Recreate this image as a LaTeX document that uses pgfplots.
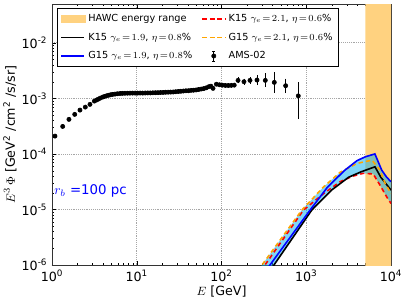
\documentclass[border=0pt]{standalone}
\usepackage{fontspec}
\setmainfont{DejaVu Sans}
\usepackage{pgfplots}
\pgfplotsset{compat=1.18}
\usepackage{pgfplotstable}
\definecolor{mplorange}{RGB}{255,165,0}
\definecolor{hawc}{RGB}{255,210,128}
\definecolor{mplblue}{RGB}{0,0,255}
\definecolor{mplred}{RGB}{255,0,0}

\pgfplotstableread{
E F ep em
1.084 2.094e-4 0 0
1.337 3.126e-4 0 0
1.585 4.188e-4 0 0
1.854 5.152e-4 0 0
2.138 6.152e-4 0 0
2.472 6.966e-4 0 0
2.805 7.798e-4 0 0
3.162 8.933e-4 0 0
3.350 9.333e-4 0 0
3.524 9.705e-4 0 0
3.715 1.012e-3 0 0
3.963 1.054e-3 0 0
4.169 1.084e-3 0 0
4.416 1.114e-3 0 0
4.677 1.140e-3 0 0
4.920 1.161e-3 0 0
5.188 1.180e-3 0 0
5.534 1.194e-3 0 0
5.888 1.211e-3 0 0
6.339 1.225e-3 0 0
6.761 1.230e-3 0 0
7.244 1.236e-3 0 0
7.762 1.239e-3 0 0
8.318 1.242e-3 0 0
8.913 1.245e-3 0 0
9.550 1.245e-3 0 0
10.23 1.245e-3 0 0
10.96 1.247e-3 0 0
11.75 1.245e-3 0 0
12.59 1.250e-3 0 0
13.49 1.253e-3 0 0
14.45 1.253e-3 0 0
15.49 1.259e-3 0 0
16.60 1.265e-3 0 0
17.78 1.268e-3 0 0
19.05 1.274e-3 0 0
20.42 1.279e-3 0 0
21.88 1.288e-3 0 0
23.44 1.294e-3 0 0
25.12 1.297e-3 0 0
26.92 1.303e-3 0 0
28.84 1.318e-3 0 0
30.90 1.330e-3 0 0
33.11 1.343e-3 0 0
35.48 1.355e-3 0 0
38.02 1.368e-3 0 0
40.74 1.374e-3 0 0
43.65 1.393e-3 0 0
46.77 1.403e-3 0 0
50.12 1.419e-3 0 0
53.70 1.445e-3 0 0
57.54 1.472e-3 0 0
61.66 1.500e-3 0 0
66.07 1.549e-3 0 0
70.79 1.622e-3 0 0
74.99 1.660e-3 0 0
79.43 1.514e-3 0 0
87.10 1.799e-3 0 0
94.41 1.758e-3 0 0
102.3 1.730e-3 0 0
110.9 1.710e-3 0 0
120.2 1.706e-3 0 0
130.3 1.714e-3 0 0
141.3 1.730e-3 0 0
156.7 2.109e-3 0.08e-3 0.08e-3
184.1 1.995e-3 0.10e-3 0.10e-3
216.8 2.109e-3 0.13e-3 0.13e-3
262.4 2.138e-3 0.25e-3 0.25e-3
328.9 2.109e-3 0.52e-3 0.37e-3
419.8 1.941e-3 0.76e-3 0.57e-3
571.5 1.690e-3 0.40e-3 0.34e-3
805.4 1.109e-3 0.68e-3 0.65e-3
}\ams

\begin{document}
\begin{tikzpicture}
\begin{axis}[
  name=ax,
  scale only axis, width=254.25pt, height=195.75pt,
  xmode=log, ymode=log,
  xmin=1, xmax=1e4, ymin=1e-6, ymax=5e-2,
  xtick={1,10,100,1000,10000},
  xticklabels={10\textsuperscript{0},10\textsuperscript{1},10\textsuperscript{2},10\textsuperscript{3},10\textsuperscript{4}},
  ytick={1e-6,1e-5,1e-4,1e-3,1e-2},
  yticklabels={10\textsuperscript{-6},10\textsuperscript{-5},10\textsuperscript{-4},10\textsuperscript{-3},10\textsuperscript{-2}},
  grid=major,
  grid style={densely dotted, gray!70, line width=0.5pt},
  tick label style={font=\fontsize{9.5}{11}\selectfont},
  label style={font=\fontsize{9.5}{11}\selectfont},
  major tick length=3pt, minor tick length=1.5pt,
  tick style={black},
  axis line style={black!80},
  xlabel={$E$ [GeV]},
  ylabel={$E^3\,\Phi$ [GeV\textsuperscript{2} /cm\textsuperscript{2} /s/sr]},
  xlabel style={at={(axis description cs:0.5,-0.102)}, anchor=center},
  ylabel style={at={(axis description cs:-0.124,0.5)}, anchor=center},
  legend columns=2,
  legend cell align=left,
  legend style={at={(0,1)}, anchor=north west, xshift=3.5pt, yshift=-3pt,
    font=\fontsize{7.3}{8.8}\selectfont, draw=black, fill=white, inner sep=2.5pt,
    /tikz/every even column/.append style={column sep=5pt}, row sep=3pt},
]
% HAWC range
\addplot[fill=hawc, draw=none,
  legend image code/.code={\fill[hawc] (0cm,-0.11cm) rectangle (0.65cm,0.11cm);}]
  coordinates {(5000,1e-7) (20000,1e-7) (20000,1) (5000,1) (5000,1e-7)};
\addlegendentry{HAWC energy range}

% model band
\addplot[forget plot, fill=cyan, fill opacity=0.5, draw=none] coordinates {
 (269.2,7.943e-7) (300.6,1e-6) (885.1,9.705e-6) (1585,2.512e-5) (2512,4.677e-5)
 (2818,5.129e-5) (3981,7.586e-5) (5012,8.913e-5) (6457,1e-4) (7762,5.129e-5)
 (8892,3.802e-5) (10000,3.162e-5)
 (10000,1.282e-5) (8892,1.687e-5) (7413,2.742e-5) (6166,4.365e-5) (4677,4.467e-5)
 (3548,3.981e-5) (3162,3.802e-5) (1995,2.239e-5) (1159,9.705e-6) (415.9,1e-6)
 (372.4,7.943e-7) (269.2,7.943e-7)};

% red K15 2.1
\addplot[mplred, line width=1.2pt, dash pattern=on 3.2pt off 2.4pt] coordinates {
 (291.7,7.943e-7) (325.8,1e-6) (924.7,9.705e-6) (1585,1.905e-5) (2512,3.162e-5)
 (3548,3.981e-5) (4677,4.467e-5) (6166,4.365e-5) (7413,2.742e-5) (8892,1.687e-5) (10000,1.282e-5)};
\addlegendentry{K15 $\gamma_e\!=\!2.1$, $\eta\!=\!0.6\%$}
% black K15 1.9
\addplot[black, line width=1.2pt] coordinates {
 (372.4,7.943e-7) (415.9,1e-6) (1159,9.705e-6) (1995,2.239e-5) (3162,3.802e-5)
 (4467,4.786e-5) (6471,5.861e-5) (7586,3.802e-5) (10000,2.228e-5)};
\addlegendentry{K15 $\gamma_e\!=\!1.9$, $\eta\!=\!0.8\%$}
% orange G15 2.1
\addplot[mplorange, line width=1.2pt, dash pattern=on 3.2pt off 2.4pt] coordinates {
 (269.2,7.943e-7) (300.6,1e-6) (885.1,9.705e-6) (1585,2.512e-5) (2512,4.677e-5)
 (3981,6.761e-5) (5970,7.727e-5) (7413,5.129e-5) (8511,2.951e-5) (10000,1.950e-5)};
\addlegendentry{G15 $\gamma_e\!=\!2.1$, $\eta\!=\!0.6\%$}
% blue G15 1.9
\addplot[mplblue, line width=1.2pt] coordinates {
 (334.2,7.943e-7) (373.3,1e-6) (1107,9.705e-6) (1778,2.512e-5) (2818,5.012e-5)
 (3981,7.586e-5) (5012,8.913e-5) (6457,1e-4) (7762,5.129e-5) (8892,3.802e-5) (10000,3.162e-5)};
\addlegendentry{G15 $\gamma_e\!=\!1.9$, $\eta\!=\!0.8\%$}

% AMS-02
\addplot[only marks, mark=*, black, mark size=1.6pt,
  legend image code/.code={
    \draw[black, line width=0.6pt] (0.3cm,-0.13cm)--(0.3cm,0.13cm);
    \draw[black, line width=0.6pt] (0.26cm,0.13cm)--(0.34cm,0.13cm);
    \draw[black, line width=0.6pt] (0.26cm,-0.13cm)--(0.34cm,-0.13cm);
    \fill[black] (0.3cm,0cm) circle (1.6pt);},
  error bars/.cd, y dir=both, y explicit,
  error bar style={black, line width=0.6pt},
  error mark options={black, mark size=1.5pt, line width=0.6pt}]
  table[x=E, y=F, y error plus=ep, y error minus=em] {\ams};
\addlegendentry{AMS-02}

\node[anchor=west, inner sep=0pt, text=mplblue, font=\fontsize{10}{12}\selectfont]
  at (axis cs:1.06,2.14e-5) {$r_b$ =100 pc};
\end{axis}
\pgfresetboundingbox
\path ([xshift=-39pt,yshift=-30pt]ax.south west) rectangle ([xshift=12pt,yshift=3pt]ax.north east);
\end{tikzpicture}
\end{document}
